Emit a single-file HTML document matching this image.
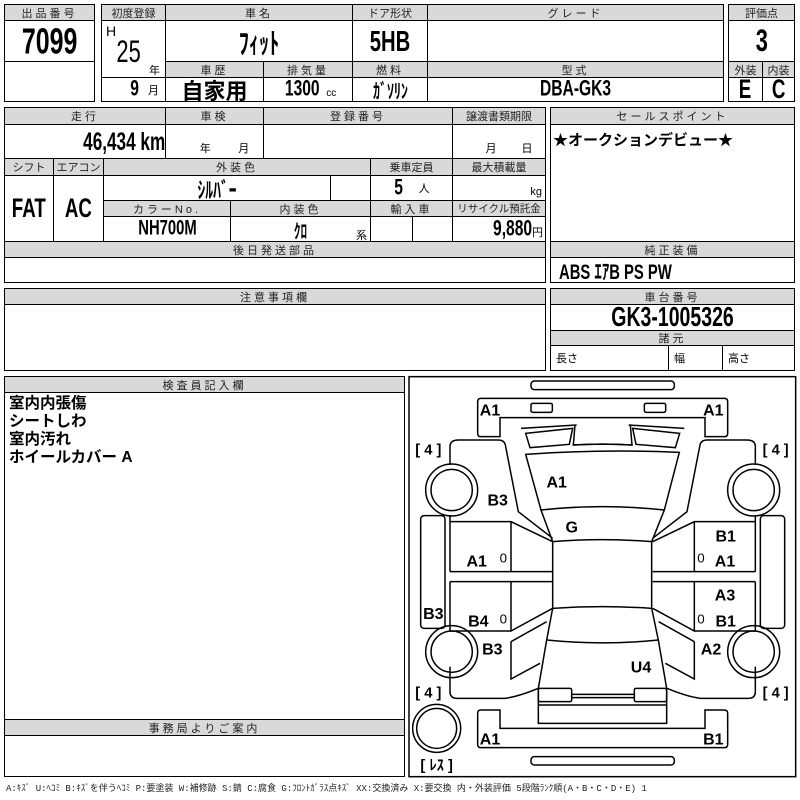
<!DOCTYPE html>
<html><head><meta charset="utf-8"><style>
*{margin:0;padding:0;box-sizing:border-box}
body{width:800px;height:800px;background:#fff;position:relative;overflow:hidden;font-family:"Liberation Sans","Noto Sans CJK JP",sans-serif;color:#000}
.c{position:absolute;border:1px solid #000;display:flex;align-items:center;justify-content:center;white-space:nowrap}
.h{background:#d9d9d9;font-size:11px;letter-spacing:3px;color:#222}
.v{font-family:"Liberation Sans Narrow","Liberation Sans","Noto Sans CJK JP",sans-serif;font-weight:bold;font-size:20px}
.n{display:inline-block;transform:scale(0.78,1.12)}
.s{font-size:10px;font-weight:normal;position:absolute}
</style></head><body>
<!-- top block -->
<div class="c h" style="left:4px;top:4px;width:91px;height:17px">出品番号</div>
<div class="c v" style="left:4px;top:20px;width:91px;height:42px;font-size:32px"><span class="n">7099</span></div>
<div class="c" style="left:4px;top:61px;width:91px;height:41px"></div>

<div class="c h" style="left:101px;top:4px;width:65px;height:17px;letter-spacing:0">初度登録</div>
<div class="c h" style="left:165px;top:4px;width:188px;height:17px">車名</div>
<div class="c h" style="left:352px;top:4px;width:76px;height:17px;letter-spacing:0">ドア形状</div>
<div class="c h" style="left:427px;top:4px;width:297px;height:17px">グレード</div>
<div class="c" style="left:101px;top:20px;width:65px;height:58px"></div>
<div class="s v" style="left:106px;top:23px;font-size:14px">H</div>
<div class="s v" style="left:113px;top:36px;font-size:28px"><span class="n">25</span></div>
<div class="s" style="left:149px;top:62px;font-size:11px">年</div>
<div class="c v" style="left:165px;top:20px;width:188px;height:42px;font-size:26px"><span class="n">ﾌｨｯﾄ</span></div>
<div class="c v" style="left:352px;top:20px;width:76px;height:42px;font-size:26px"><span class="n">5HB</span></div>
<div class="c" style="left:427px;top:20px;width:297px;height:42px"></div>
<div class="c h" style="left:165px;top:61px;width:99px;height:17px">車歴</div>
<div class="c h" style="left:263px;top:61px;width:90px;height:17px">排気量</div>
<div class="c h" style="left:352px;top:61px;width:76px;height:17px">燃料</div>
<div class="c h" style="left:427px;top:61px;width:297px;height:17px">型式</div>
<div class="c v" style="left:101px;top:77px;width:65px;height:25px;font-size:20px;justify-content:flex-end;padding-right:6px"><span class="n">9</span> <span style="font-size:11px;font-weight:normal;margin-left:8px">月</span></div>
<div class="c v" style="left:165px;top:77px;width:99px;height:25px;font-size:22px">自家用</div>
<div class="c v" style="left:263px;top:77px;width:90px;height:25px"><span class="n">1300</span><span style="font-size:10px;font-weight:normal;margin-left:2px;margin-top:8px">cc</span></div>
<div class="c v" style="left:352px;top:77px;width:76px;height:25px;font-size:18px"><span class="n">ｶﾞｿﾘﾝ</span></div>
<div class="c v" style="left:427px;top:77px;width:297px;height:25px"><span class="n">DBA-GK3</span></div>

<div class="c h" style="left:728px;top:4px;width:67px;height:17px;letter-spacing:0">評価点</div>
<div class="c v" style="left:728px;top:20px;width:67px;height:42px;font-size:28px"><span class="n">3</span></div>
<div class="c h" style="left:728px;top:61px;width:35px;height:17px;letter-spacing:0">外装</div>
<div class="c h" style="left:762px;top:61px;width:33px;height:17px;letter-spacing:0">内装</div>
<div class="c v" style="left:728px;top:77px;width:35px;height:25px;font-size:24px"><span class="n">E</span></div>
<div class="c v" style="left:762px;top:77px;width:33px;height:25px;font-size:24px"><span class="n">C</span></div>

<!-- second block -->
<div class="c h" style="left:4px;top:107px;width:162px;height:18px">走行</div>
<div class="c h" style="left:165px;top:107px;width:99px;height:18px">車検</div>
<div class="c h" style="left:263px;top:107px;width:190px;height:18px">登録番号</div>
<div class="c h" style="left:452px;top:107px;width:94px;height:18px;letter-spacing:0">譲渡書類期限</div>
<div class="c v" style="left:4px;top:124px;width:162px;height:35px;justify-content:flex-end;padding-right:0;font-size:22px"><span class="n" style="transform-origin:right">46,434 km</span></div>
<div class="c" style="left:165px;top:124px;width:99px;height:35px;align-items:flex-end;font-size:11px;padding-bottom:2px;padding-left:20px;justify-content:space-around">年<span>月</span></div>
<div class="c" style="left:263px;top:124px;width:190px;height:35px"></div>
<div class="c" style="left:452px;top:124px;width:94px;height:35px;align-items:flex-end;font-size:11px;padding-bottom:2px;padding-left:20px;justify-content:space-around">月<span>日</span></div>
<div class="c h" style="left:4px;top:158px;width:50px;height:18px;letter-spacing:0">シフト</div>
<div class="c h" style="left:53px;top:158px;width:51px;height:18px;letter-spacing:0">エアコン</div>
<div class="c h" style="left:103px;top:158px;width:268px;height:18px">外装色</div>
<div class="c h" style="left:370px;top:158px;width:83px;height:18px;letter-spacing:0">乗車定員</div>
<div class="c h" style="left:452px;top:158px;width:94px;height:18px;letter-spacing:0">最大積載量</div>
<div class="c v" style="left:4px;top:175px;width:50px;height:67px;font-size:24px"><span class="n">FAT</span></div>
<div class="c v" style="left:53px;top:175px;width:51px;height:67px;font-size:24px"><span class="n">AC</span></div>
<div class="c v" style="left:103px;top:175px;width:228px;height:26px"><span class="n">ｼﾙﾊﾞｰ</span></div>
<div class="c" style="left:330px;top:175px;width:41px;height:26px"></div>
<div class="c v" style="left:370px;top:175px;width:83px;height:26px"><span class="n">5</span><span style="font-size:11px;font-weight:normal;margin-left:14px">人</span></div>
<div class="c" style="left:452px;top:175px;width:94px;height:26px;justify-content:flex-end;align-items:flex-end;font-size:11px;padding:0 3px 2px 0">kg</div>
<div class="c h" style="left:103px;top:200px;width:128px;height:17px">カラーNo.</div>
<div class="c h" style="left:230px;top:200px;width:141px;height:17px">内装色</div>
<div class="c h" style="left:370px;top:200px;width:83px;height:17px">輸入車</div>
<div class="c h" style="left:452px;top:200px;width:94px;height:17px;letter-spacing:0;font-size:10.5px">リサイクル預託金</div>
<div class="c v" style="left:103px;top:216px;width:128px;height:26px;font-size:19px"><span class="n">NH700M</span></div>
<div class="c v" style="left:230px;top:216px;width:141px;height:26px;font-size:17px"><span class="n">ｸﾛ</span></div>
<div class="s" style="left:356px;top:227px;font-size:11px">系</div>
<div class="c" style="left:370px;top:216px;width:43px;height:26px"></div>
<div class="c" style="left:412px;top:216px;width:41px;height:26px"></div>
<div class="c v" style="left:452px;top:216px;width:94px;height:26px;justify-content:flex-end;padding-right:2px"><span class="n" style="transform-origin:right">9,880</span><span style="font-size:11px;font-weight:normal;margin-top:6px">円</span></div>
<div class="c h" style="left:4px;top:241px;width:542px;height:17px">後日発送部品</div>
<div class="c" style="left:4px;top:257px;width:542px;height:26px"></div>

<div class="c h" style="left:550px;top:107px;width:245px;height:18px">セールスポイント</div>
<div class="c" style="left:550px;top:124px;width:245px;height:118px;align-items:flex-start;justify-content:flex-start;font-weight:bold;font-size:15px;padding:4px 0 0 2px">★オークションデビュー★</div>
<div class="c h" style="left:550px;top:241px;width:245px;height:17px">純正装備</div>
<div class="c v" style="left:550px;top:257px;width:245px;height:26px;justify-content:flex-start;padding-left:8px;font-size:19px"><span class="n" style="transform-origin:left">ABS ｴｱB PS PW</span></div>

<!-- third block -->
<div class="c h" style="left:4px;top:288px;width:542px;height:17px">注意事項欄</div>
<div class="c" style="left:4px;top:304px;width:542px;height:67px"></div>
<div class="c h" style="left:550px;top:288px;width:245px;height:17px">車台番号</div>
<div class="c v" style="left:550px;top:304px;width:245px;height:27px;font-size:25px"><span class="n">GK3-1005326</span></div>
<div class="c h" style="left:550px;top:330px;width:245px;height:16px">諸元</div>
<div class="c" style="left:550px;top:345px;width:119px;height:26px;justify-content:flex-start;padding-left:5px;font-size:11px">長さ</div>
<div class="c" style="left:668px;top:345px;width:55px;height:26px;justify-content:flex-start;padding-left:5px;font-size:11px">幅</div>
<div class="c" style="left:722px;top:345px;width:73px;height:26px;justify-content:flex-start;padding-left:5px;font-size:11px">高さ</div>

<!-- fourth block -->
<div class="c h" style="left:4px;top:376px;width:401px;height:17px">検査員記入欄</div>
<div class="c" style="left:4px;top:392px;width:401px;height:328px;align-items:flex-start;justify-content:flex-start;white-space:normal;font-weight:bold;font-size:15.5px;line-height:18px;padding:2px 0 0 4px">室内内張傷<br>シートしわ<br>室内汚れ<br>ホイールカバー A</div>
<div class="c h" style="left:4px;top:719px;width:401px;height:17px">事務局よりご案内</div>
<div class="c" style="left:4px;top:735px;width:401px;height:42px"></div>

<svg style="position:absolute;left:405px;top:375px" width="395" height="425" viewBox="0 0 1185 1275">
<g fill="none" stroke="#000" stroke-width="4.5">
<rect x="12" y="5" width="1160" height="1200"/>
<rect x="378" y="18" width="430" height="26" rx="10"/>
<path d="M230,70 H958 Q968,70 968,80 V175 Q968,185 958,185 H900 V128 H285 V185 H228 Q218,185 218,175 V80 Q218,70 228,70 Z"/>
<rect x="378" y="85" width="64" height="27" rx="5"/>
<rect x="718" y="85" width="64" height="27" rx="5"/>
<path d="M228,1005 H285 V1060 H900 V1005 H958 Q968,1005 968,1015 V1108 Q968,1118 958,1118 H228 Q218,1118 218,1108 V1015 Q218,1005 228,1005 Z"/>
<rect x="378" y="1145" width="430" height="25" rx="10"/>
<path d="M362,238 Q593,222 823,232 L778,405 L740,500 L740,700 L760,795 L785,940 L785,1045 L400,1045 L400,940 L425,795 L443,700 L443,500 L408,405 Z"/>
<path d="M408,405 Q593,385 778,405"/>
<path d="M443,500 Q593,488 740,500"/>
<path d="M443,700 Q593,690 740,700"/>
<path d="M425,795 Q593,812 760,795"/>
<rect x="400" y="940" width="100" height="40" rx="5"/>
<rect x="688" y="940" width="97" height="40" rx="5"/>
<path d="M500,958 H688 M500,968 H688"/>
<path d="M400,990 H785"/>
<g id="side">
<path d="M348,160 L515,150"/>
<path d="M362,175 L503,160 L493,208 L375,218 Z"/>
<path d="M510,150 L505,210 Q593,205 683,210"/>
<path d="M135,270 V215 Q135,195 160,195 H280 Q300,195 302,215 L340,410 L443,490"/>
<path d="M135,420 V440 H318 L443,500 M318,440 V590 M135,590 H443 M135,620 H443 M318,620 V768 L443,700 M135,620 V768 H318"/>
<path d="M135,440 V590"/>
<path d="M318,800 L425,740 M318,800 V912 L405,865"/>
<path d="M135,875 V950 Q135,970 155,970 H300 Q340,965 400,940"/>
<rect x="47" y="422" width="73" height="338" rx="10"/>
<circle cx="140" cy="345" r="78"/>
<circle cx="140" cy="345" r="62"/>
<circle cx="140" cy="830" r="78"/>
<circle cx="140" cy="830" r="62"/>
</g>
<use href="#side" transform="translate(1186,0) scale(-1,1)"/>
<circle cx="95" cy="1060" r="72"/>
<circle cx="95" cy="1060" r="60"/>
</g>
<g font-family="Liberation Sans, sans-serif" font-weight="bold" font-size="48" text-anchor="middle" fill="#000">
<text x="255" y="122">A1</text><text x="925" y="122">A1</text>
<text x="455" y="337">A1</text><text x="278" y="392">B3</text>
<text x="500" y="473">G</text><text x="962" y="500">B1</text>
<text x="215" y="575">A1</text><text x="960" y="575">A1</text>
<text x="960" y="677">A3</text><text x="85" y="732">B3</text>
<text x="220" y="755">B4</text><text x="962" y="755">B1</text>
<text x="262" y="839">B3</text><text x="918" y="839">A2</text>
<text x="708" y="892">U4</text>
<text x="255" y="1109">A1</text><text x="925" y="1109">B1</text>
<g font-size="40" font-weight="normal"><text x="295" y="563">0</text><text x="888" y="563">0</text><text x="295" y="745">0</text><text x="888" y="745">0</text></g>
<g font-size="44"><text x="70" y="238" xml:space="preserve">[ 4 ]</text><text x="1112" y="238" xml:space="preserve">[ 4 ]</text><text x="70" y="968" xml:space="preserve">[ 4 ]</text><text x="1112" y="968" xml:space="preserve">[ 4 ]</text><text x="95" y="1185" font-family="Liberation Sans, Noto Sans CJK JP, sans-serif">[ ﾚｽ ]</text></g>
</g>
</svg>
<div style="position:absolute;left:6px;top:781px;font-size:9px;white-space:nowrap;color:#222;font-family:'Liberation Mono','Noto Sans CJK JP',monospace">A:ｷｽﾞ U:ﾍｺﾐ B:ｷｽﾞを伴うﾍｺﾐ P:要塗装 W:補修跡 S:錆 C:腐食 G:ﾌﾛﾝﾄｶﾞﾗｽ点ｷｽﾞ XX:交換済み X:要交換 内・外装評価 5段階ﾗﾝｸ順(A・B・C・D・E) 1</div>
</body></html>
